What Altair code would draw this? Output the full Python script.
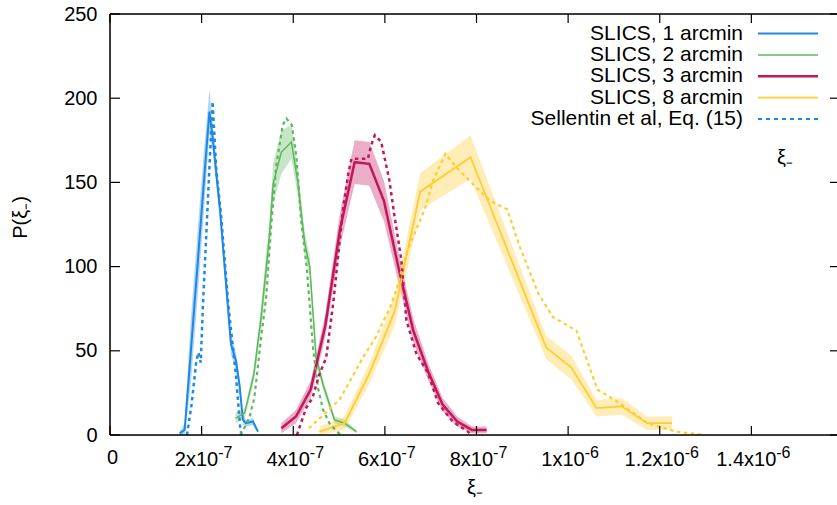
import altair as alt
import pandas as pd

FONT = "Liberation Sans"
E = 1e-7  # x values below are in units of 1e-7

# ---- SLICS histograms (solid line + error band) ----
blue_x = [1.52, 1.63, 1.76, 1.90, 2.04, 2.17, 2.24, 2.40, 2.64, 2.75, 2.83, 2.90, 2.97, 3.12, 3.23]
blue_y = [1, 3, 48, 97, 147, 192, 177, 134, 54, 44, 29, 9, 7, 8, 2]
blue_e = [1, 4, 19, 20, 18, 13, 8, 6, 6, 5, 4, 3, 2, 2, 1]

green_x = [2.74, 2.94, 3.14, 3.30, 3.48, 3.56, 3.74, 3.96, 4.10, 4.25, 4.36, 4.50, 4.65, 4.90, 5.12, 5.38]
green_y = [10, 13, 36, 70, 118, 149, 168, 174, 150, 114, 100, 46, 30, 9, 7, 2]
green_e = [3, 3, 4, 7, 10, 12, 13, 10, 8, 7, 6, 4, 3, 2, 2, 1]

red_x = [3.74, 4.06, 4.38, 4.70, 5.02, 5.34, 5.66, 5.98, 6.30, 6.62, 6.94, 7.26, 7.58, 7.90, 8.22]
red_y = [4, 11, 27, 65, 122, 162, 161, 139, 99, 62, 38, 18, 8, 3, 3]
red_e = [3, 4, 5, 7, 10, 13, 13, 12, 9, 7, 5, 4, 3, 2, 2]

yellow_x = [4.57, 5.12, 5.67, 6.22, 6.77, 7.87, 9.52, 10.07, 10.62, 11.17, 11.72, 12.27]
yellow_y = [2, 7, 37, 74, 144.5, 165, 52, 40, 16, 17, 7, 7]
yellow_e = [3, 4, 6, 9, 11, 13, 7, 7, 5, 5, 4, 4]

# ---- Sellentin et al, Eq. (15) (dotted) ----
s_blue_x = [1.68, 1.78, 1.88, 1.93, 1.98, 2.03, 2.10, 2.17, 2.24, 2.32, 2.42, 2.58, 2.75, 2.84, 2.87]
s_blue_y = [0, 18, 43, 49, 43, 78, 118, 159, 198, 157, 132, 78, 35, 5, 0]

s_green_x = [2.84, 2.95, 3.05, 3.15, 3.30, 3.41, 3.52, 3.63, 3.77, 3.85, 3.97, 4.07, 4.17, 4.30, 4.43, 4.54, 4.65, 4.79, 4.95, 5.05]
s_green_y = [0, 5, 11, 22, 58, 82, 125, 160, 184, 188, 184, 165, 128, 98, 52, 28, 15, 7, 2, 0]

s_red_x = [4.08, 4.28, 4.42, 4.57, 4.72, 4.88, 5.08, 5.20, 5.27, 5.41, 5.63, 5.70, 5.78, 5.92, 6.10, 6.21, 6.36, 6.47, 6.69, 6.94, 7.16, 7.48, 7.81, 7.90]
s_red_y = [0, 16, 22, 36, 46, 80, 133, 155, 164, 164, 164, 172, 178, 174, 151, 130, 104, 68, 48, 37, 19, 8, 2, 0]

s_yellow_x = [4.34, 4.70, 5.01, 5.30, 5.52, 5.80, 6.10, 6.25, 6.47, 6.87, 7.05, 7.32, 7.56, 7.92, 8.30, 8.67, 8.94, 9.35, 9.67, 10.18, 10.64, 11.12, 11.74, 12.35, 13.0]
s_yellow_y = [4, 13, 21, 35, 46, 58, 75, 86, 108, 134, 151, 167, 159, 149, 139, 134, 112, 84, 70, 62, 27, 19, 7, 2, 0]

legend_labels = ["SLICS, 1 arcmin", "SLICS, 2 arcmin", "SLICS, 3 arcmin", "SLICS, 8 arcmin", "Sellentin et al, Eq. (15)"]
x_tick_values = [0, 2e-7, 4e-7, 6e-7, 8e-7, 1e-6, 1.2e-6, 1.4e-6]
x_tick_base = ["0", "2x10", "4x10", "6x10", "8x10", "1x10", "1.2x10", "1.4x10"]
x_tick_exp = ["", "-7", "-7", "-7", "-7", "-6", "-6", "-6"]
y_tick_values = [0, 50, 100, 150, 200, 250]

series = [
    dict(color="#1e88e5", lw=2.0, dw=2.5, x=blue_x, y=blue_y, e=blue_e, sx=s_blue_x, sy=s_blue_y),
    dict(color="#5cb85c", lw=1.5, dw=2.2, x=green_x, y=green_y, e=green_e, sx=s_green_x, sy=s_green_y),
    dict(color="#c2185b", lw=2.5, dw=2.5, x=red_x, y=red_y, e=red_e, sx=s_red_x, sy=s_red_y),
    dict(color="#ffcc33", lw=1.8, dw=2.2, x=yellow_x, y=yellow_y, e=yellow_e, sx=s_yellow_x, sy=s_yellow_y),
]

W, H = 727, 421
X_MAX = 1.6e-6 * W / 733.0
xs = alt.Scale(domain=[0, X_MAX], nice=False, zero=False)
ys = alt.Scale(domain=[0, 250], nice=False)

yaxis = alt.Axis(values=y_tick_values, ticks=False, domain=False, grid=False,
                 labelFont=FONT, labelFontSize=20, labelColor="black", labelPadding=13,
                 labelFlush=False, labelOverlap=False,
                 title="P(ξ₋)", titleFont=FONT, titleFontSize=20, titleFontWeight="normal",
                 titleColor="black", titleX=-90, titleY=203, titleBaseline="middle")

X = alt.X("x:Q", scale=xs, axis=None)
Y = alt.Y("y:Q", scale=ys, axis=yaxis)

layers = []
bands, solids, dots = [], [], []
for s in series:
    df = pd.DataFrame({
        "x": [v * E for v in s["x"]],
        "y": s["y"],
        "lo": [max(0, a - b) for a, b in zip(s["y"], s["e"])],
        "hi": [a + b for a, b in zip(s["y"], s["e"])],
    })
    bands.append(alt.Chart(df).mark_area(color=s["color"], opacity=0.35).encode(
        x=X, y=alt.Y("lo:Q", scale=ys, axis=yaxis), y2="hi:Q"))
    solids.append(alt.Chart(df).mark_line(color=s["color"], strokeWidth=s["lw"]).encode(x=X, y=Y))
    dft = pd.DataFrame({"x": [v * E for v in s["sx"]], "y": s["sy"]})
    dots.append(alt.Chart(dft).mark_line(color=s["color"], strokeWidth=s["dw"], strokeDash=[3.5, 3.5]).encode(x=X, y=Y))
layers += bands + solids + dots

# frame and inward ticks
one = pd.DataFrame({"k": [0]})
frame_style = dict(color="black", strokeWidth=1.5)
layers.append(alt.Chart(one).mark_rule(**frame_style).encode(x=alt.value(0), y=alt.value(0), y2=alt.value(H)))
layers.append(alt.Chart(one).mark_rule(**frame_style).encode(x=alt.value(0), x2=alt.value(W), y=alt.value(H)))
layers.append(alt.Chart(one).mark_rule(**frame_style).encode(x=alt.value(0), x2=alt.value(W), y=alt.value(0)))

xt = pd.DataFrame({"x": x_tick_values})
yt = pd.DataFrame({"y": y_tick_values})
tick_style = dict(color="black", strokeWidth=1.2)
layers.append(alt.Chart(xt).mark_rule(**tick_style).encode(x=X, y=alt.value(H - 9), y2=alt.value(H)))
layers.append(alt.Chart(xt).mark_rule(**tick_style).encode(x=X, y=alt.value(0), y2=alt.value(9)))
layers.append(alt.Chart(yt).mark_rule(**tick_style).encode(y=Y, x=alt.value(0), x2=alt.value(10)))
layers.append(alt.Chart(yt).mark_rule(**tick_style).encode(y=Y, x=alt.value(W - 7), x2=alt.value(W)))

# x tick labels with gnuplot-style superscript exponents
CW = {c: 0.556 for c in "0123456789"}
CW.update({"x": 0.5, ".": 0.278, "-": 0.333})
BASE_FS, EXP_FS = 20, 16
for v, b, ex in zip(x_tick_values, x_tick_base, x_tick_exp):
    d = pd.DataFrame({"x": [v], "b": [b], "e": [ex]})
    if not ex:
        layers.append(alt.Chart(d).mark_text(align="center", baseline="alphabetic", font=FONT,
                                             fontSize=BASE_FS, color="black", dx=2.5).encode(
            x=X, y=alt.value(H + 29), text="b:N"))
        continue
    bw = sum(CW[c] for c in b) * BASE_FS
    ew = sum(CW[c] for c in ex) * EXP_FS
    off = 2 + (bw - ew) / 2
    layers.append(alt.Chart(d).mark_text(align="right", baseline="alphabetic", font=FONT,
                                         fontSize=BASE_FS, color="black", dx=off).encode(
        x=X, y=alt.value(H + 31), text="b:N"))
    layers.append(alt.Chart(d).mark_text(align="left", baseline="alphabetic", font=FONT,
                                         fontSize=EXP_FS, color="black", dx=off).encode(
        x=X, y=alt.value(H + 23), text="e:N"))

# x axis title
layers.append(alt.Chart(pd.DataFrame({"t": ["ξ₋"]})).mark_text(
    align="center", baseline="middle", font=FONT, fontSize=20, color="black").encode(
    text="t:N", x=alt.value(365), y=alt.value(H + 53)))

# legend (gnuplot-style key: text right-aligned, sample line to the right)
legend_colors = [s["color"] for s in series] + [series[0]["color"]]
legend_widths = [s["lw"] for s in series] + [2.0]
row0, dy = 19.5, 21.4
for i, lab in enumerate(legend_labels):
    ypos = row0 + dy * i
    layers.append(alt.Chart(pd.DataFrame({"t": [lab]})).mark_text(
        align="right", baseline="middle", font=FONT, fontSize=21, color="black").encode(
        text="t:N", x=alt.value(633), y=alt.value(ypos)))
    rule = dict(color=legend_colors[i], strokeWidth=legend_widths[i])
    if i == len(legend_labels) - 1:
        rule["strokeDash"] = [4, 4]
    layers.append(alt.Chart(one).mark_rule(**rule).encode(
        x=alt.value(648), x2=alt.value(708), y=alt.value(ypos)))

layers.append(alt.Chart(pd.DataFrame({"t": ["ξ₋"]})).mark_text(
    align="center", baseline="middle", font=FONT, fontSize=20, color="black").encode(
    text="t:N", x=alt.value(675), y=alt.value(144)))

chart = alt.layer(*layers).properties(
    width=W, height=H,
    autosize=alt.AutoSizeParams(type="none"),
    padding={"left": 110, "top": 14, "right": 0, "bottom": 70},
).configure_view(stroke=None).configure(background="white")

chart.save("out.html", embed_options={"renderer": "svg", "actions": False})
